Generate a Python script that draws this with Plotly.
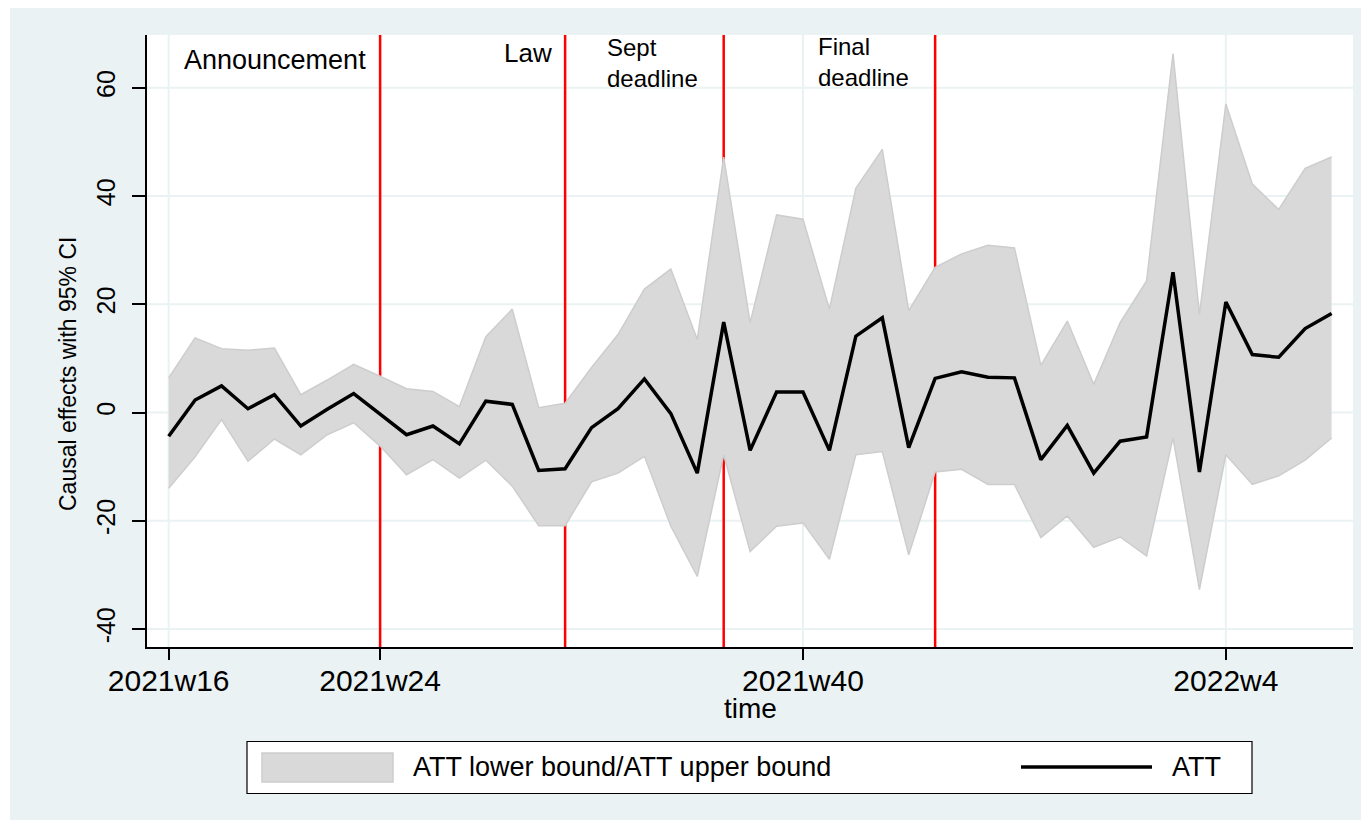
import plotly.graph_objects as go

# ---------------- data ----------------
weeks = ["2021w16", "2021w17", "2021w18", "2021w19", "2021w20", "2021w21", "2021w22",
         "2021w23", "2021w24", "2021w25", "2021w26", "2021w27", "2021w28", "2021w29",
         "2021w30", "2021w31", "2021w32", "2021w33", "2021w34", "2021w35", "2021w36",
         "2021w37", "2021w38", "2021w39", "2021w40", "2021w41", "2021w42", "2021w43",
         "2021w44", "2021w45", "2021w46", "2021w47", "2021w48", "2021w49", "2021w50",
         "2021w51", "2021w52", "2022w1", "2022w2", "2022w3", "2022w4", "2022w5",
         "2022w6", "2022w7", "2022w8"]

att = [-4.4, 2.3, 4.9, 0.7, 3.3, -2.5, 0.6, 3.5, -0.3, -4.1, -2.5, -5.8, 2.1, 1.5,
       -10.7, -10.4, -2.8, 0.7, 6.2, -0.2, -11.2, 16.7, -7.0, 3.8, 3.8, -7.0, 14.1, 17.5,
       -6.5, 6.3, 7.5, 6.5, 6.4, -8.7, -2.4, -11.2, -5.3, -4.5, 25.9, -11.0, 20.4, 10.7,
       10.2, 15.5, 18.3]

att_lower = [-14.0, -8.2, -1.3, -9.0, -4.9, -7.8, -4.1, -1.9, -6.2, -11.5, -8.7, -12.1,
             -8.8, -13.6, -20.9, -20.9, -12.8, -11.2, -8.1, -21.0, -30.3, -7.8, -25.7,
             -21.0, -20.4, -27.1, -7.8, -7.2, -26.3, -11.0, -10.5, -13.3, -13.3, -23.1,
             -19.1, -24.9, -23.0, -26.5, -4.7, -32.7, -7.8, -13.3, -11.7, -8.8, -4.7]

att_upper = [6.4, 13.8, 11.8, 11.5, 11.9, 3.3, 6.0, 8.9, 6.7, 4.4, 3.9, 1.1, 14.0, 19.1,
             0.9, 1.7, 8.3, 14.4, 22.8, 26.5, 13.5, 47.2, 16.6, 36.5, 35.7, 19.1, 41.4,
             48.6, 18.8, 26.8, 29.3, 30.9, 30.4, 8.7, 16.9, 5.2, 16.6, 24.3, 66.3, 18.1,
             57.0, 42.2, 37.5, 45.1, 47.2]

tick_weeks = ["2021w16", "2021w24", "2021w40", "2022w4"]
y_ticks = [-40, -20, 0, 20, 40, 60]
y_tick_labels = ["-40", "-20", "0", "20", "40", "60"]
event_weeks = ["2021w24", "2021w31", "2021w37", "2021w45"]

band_name = "ATT lower bound/ATT upper bound"
att_name = "ATT"
y_title = "Causal effects with 95% CI"
x_title = "time"

# ---------------- style ----------------
FONT = "Liberation Sans, Arial, Helvetica, sans-serif"
BG = "#eaf2f3"
BAND_FILL = "#d9d9d9"
BAND_EDGE = "#cdcdcd"
OFF = 8                      # page body margin of the browser
W, H = 1369 - OFF, 827 - OFF
ML, MR, MT, MB = 147 - OFF, 16, 35 - OFF, 180
PW, PH = W - ML - MR, H - MT - MB


def px(xp):
    """window pixel x -> paper fraction"""
    return (xp - OFF - ML) / PW


def py(yp):
    """window pixel y -> paper fraction"""
    return (H - MB - (yp - OFF)) / PH


xs = list(range(len(weeks)))

fig = go.Figure()
fig.add_trace(go.Scatter(x=xs, y=att_lower, mode="lines",
                         line=dict(color=BAND_EDGE, width=1.5),
                         showlegend=False, hoverinfo="skip"))
fig.add_trace(go.Scatter(x=xs, y=att_upper, mode="lines", fill="tonexty",
                         fillcolor=BAND_FILL, line=dict(color=BAND_EDGE, width=1.5),
                         name=band_name, showlegend=False))
fig.add_trace(go.Scatter(x=xs, y=att, mode="lines",
                         line=dict(color="black", width=3.5),
                         name=att_name, showlegend=False))

shapes = []
# graph region background (thin white outer border)
shapes.append(dict(type="rect", xref="paper", yref="paper", layer="below",
                   x0=px(10), x1=px(1380), y0=py(820), y1=py(0),
                   fillcolor=BG, line=dict(width=0)))
# plot region
shapes.append(dict(type="rect", xref="paper", yref="paper", layer="below",
                   x0=0, x1=1, y0=0, y1=1, fillcolor="white", line=dict(width=0)))
# grid lines
for wk in tick_weeks:
    shapes.append(dict(type="line", xref="x", yref="paper", layer="below",
                       x0=weeks.index(wk), x1=weeks.index(wk), y0=0, y1=1,
                       line=dict(color=BG, width=2)))
for v in y_ticks:
    shapes.append(dict(type="line", xref="paper", yref="y", layer="below",
                       x0=0, x1=1, y0=v, y1=v, line=dict(color=BG, width=2)))
# event lines
for wk in event_weeks:
    shapes.append(dict(type="line", xref="x", yref="paper", layer="below",
                       x0=weeks.index(wk), x1=weeks.index(wk), y0=0, y1=1,
                       line=dict(color="red", width=2.5)))
# legend box
shapes.append(dict(type="rect", xref="paper", yref="paper",
                   x0=px(247), x1=px(1252), y0=py(793.5), y1=py(741.5),
                   fillcolor="white", line=dict(color="black", width=1.2)))
shapes.append(dict(type="rect", xref="paper", yref="paper",
                   x0=px(262), x1=px(393), y0=py(782), y1=py(753),
                   fillcolor=BAND_FILL, line=dict(color=BAND_EDGE, width=1.5)))
shapes.append(dict(type="line", xref="paper", yref="paper",
                   x0=px(1021), x1=px(1152), y0=py(767), y1=py(767),
                   line=dict(color="black", width=3.5)))

annotations = []


def add_text(text, xp, yp, size, xanchor="left", angle=0):
    annotations.append(dict(text=text, xref="paper", yref="paper", x=px(xp), y=py(yp),
                            xanchor=xanchor, yanchor="middle", showarrow=False,
                            align="left", textangle=angle,
                            font=dict(family=FONT, size=size, color="black")))


add_text("Announcement", 182, 60.5, 27)
add_text("Law", 554, 53, 26, xanchor="right")
add_text("Sept<br>deadline", 605, 63, 24)
add_text("Final<br>deadline", 816, 62, 24)
add_text(y_title, 68, 374, 23, xanchor="center", angle=-90)
add_text(x_title, 750, 708, 28, xanchor="center")
add_text(band_name, 411, 767, 27)
add_text(att_name, 1170, 767, 27)

fig.update_layout(
    width=W, height=H,
    margin=dict(l=ML, r=MR, t=MT, b=MB, autoexpand=False),
    paper_bgcolor="white", plot_bgcolor="white",
    font=dict(family=FONT, color="black"),
    showlegend=False,
    shapes=shapes, annotations=annotations,
    xaxis=dict(range=[-0.82, 44.81], tickmode="array",
               tickvals=[weeks.index(w) for w in tick_weeks], ticktext=tick_weeks,
               showline=True, linecolor="black", linewidth=1.5,
               ticks="outside", ticklen=11, tickwidth=1.5, tickcolor="black",
               showgrid=False, zeroline=False, ticklabelstandoff=-5,
               tickfont=dict(family=FONT, size=30)),
    yaxis=dict(range=[-43.32, 69.74], tickmode="array", tickvals=y_ticks,
               ticktext=y_tick_labels,
               showline=True, linecolor="black", linewidth=1.5,
               ticks="outside", ticklen=13, tickwidth=1.5, tickcolor="black",
               showgrid=False, zeroline=False, ticklabelstandoff=7,
               tickangle=-90, tickfont=dict(family=FONT, size=25)),
)

fig.write_html("out.html")
